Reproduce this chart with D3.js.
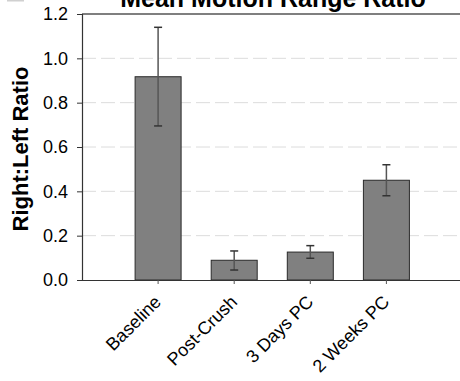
<!DOCTYPE html>
<html>
<head>
<meta charset="utf-8">
<script src="https://cdn.jsdelivr.net/npm/d3@7"></script>
<style>
  html, body { margin: 0; padding: 0; background: #fff; }
  svg { display: block; }
  text { font-family: "Liberation Sans", Arial, sans-serif; fill: #000; }
</style>
</head>
<body>
<svg id="chart" width="460" height="381"></svg>
<script>
// Group labels and mean ratio per group
const categories = ["Baseline", "Post-Crush", "3 Days PC", "2 Weeks PC"];
const meanRatio = [0.917, 0.089, 0.126, 0.450];
const errLow = [0.695, 0.045, 0.098, 0.380];
const errHigh = [1.140, 0.131, 0.155, 0.520];
const yTicks = [0.0, 0.2, 0.4, 0.6, 0.8, 1.0, 1.2];
const gridTicks = [0.2, 0.4, 0.6, 0.8, 1.0];

const svg = d3.select("#chart");

const plotLeft = 82, plotTop = 14, plotBottom = 280, plotRight = 470;
const step = 76.1;

const y = d3.scaleLinear().domain([0, 1.2]).range([plotBottom, plotTop]);
const x = d3.scaleBand()
  .domain(categories)
  .range([plotLeft + step / 2, plotLeft + step / 2 + step * categories.length])
  .padding(0);

const barW = 46;
const cx = d => x(d) + x.bandwidth() / 2;

// dashed horizontal gridlines
svg.append("g").selectAll("line").data(gridTicks).join("line")
  .attr("x1", plotLeft).attr("x2", plotRight)
  .attr("y1", d => y(d)).attr("y2", d => y(d))
  .attr("stroke", "#dcdcdc").attr("stroke-width", 1)
  .attr("stroke-dasharray", "14,5");

// top frame line
svg.append("line")
  .attr("x1", plotLeft).attr("x2", plotRight)
  .attr("y1", y(1.2)).attr("y2", y(1.2))
  .attr("stroke", "#555").attr("stroke-width", 1.5);

// bars
svg.append("g").selectAll("rect").data(categories).join("rect")
  .attr("x", d => cx(d) - barW / 2)
  .attr("width", barW)
  .attr("y", (d, i) => y(meanRatio[i]))
  .attr("height", (d, i) => y(0) - y(meanRatio[i]))
  .attr("fill", "#808080")
  .attr("stroke", "#2a2a2a").attr("stroke-width", 1);

// error bars
const eb = svg.append("g");
categories.forEach((c, i) => {
  eb.append("line")
    .attr("x1", cx(c)).attr("x2", cx(c))
    .attr("y1", y(errHigh[i])).attr("y2", y(errLow[i]))
    .attr("stroke", "#555").attr("stroke-width", 1.5);
  [errHigh[i], errLow[i]].forEach(v => {
    eb.append("line")
      .attr("x1", cx(c) - 4).attr("x2", cx(c) + 4)
      .attr("y1", y(v)).attr("y2", y(v))
      .attr("stroke", "#333").attr("stroke-width", 1.5);
  });
});

// y axis
const yAxis = d3.axisLeft(y).tickValues(yTicks).tickFormat(d3.format(".1f"))
  .tickSize(5).tickPadding(9);
const ya = svg.append("g").attr("transform", `translate(${plotLeft},0)`).call(yAxis);
ya.select(".domain").attr("stroke", "#333").attr("stroke-width", 1.2);
ya.selectAll(".tick line").attr("stroke", "#333");
ya.selectAll(".tick text")
  .style("font-family", "'Liberation Sans', Arial, sans-serif")
  .style("font-size", "18px").attr("fill", "#111");

// x axis
const xAxis = d3.axisBottom(x).tickSize(4).tickSizeOuter(0);
const xa = svg.append("g").attr("transform", `translate(0,${plotBottom})`).call(xAxis);
xa.select(".domain").attr("d", `M${plotLeft},0.5H${plotRight}`).attr("stroke", "#333").attr("stroke-width", 1.2);
xa.selectAll(".tick line").attr("stroke", "#555");
xa.selectAll(".tick text")
  .style("font-family", "'Liberation Sans', Arial, sans-serif")
  .style("font-size", "18px").attr("fill", "#111")
  .attr("text-anchor", "end")
  .attr("dy", "0")
  .attr("x", 0).attr("y", 0)
  .attr("dominant-baseline", "hanging")
  .attr("transform", "translate(-5,14) rotate(-45)");

// y axis title
svg.append("text")
  .attr("transform", "translate(28,149) rotate(-90)")
  .attr("text-anchor", "middle")
  .style("font-size", "22px").style("font-weight", "bold")
  .text("Right:Left Ratio");

// chart title
svg.append("text")
  .attr("x", 273).attr("y", 7)
  .attr("text-anchor", "middle")
  .style("font-size", "25px").style("font-weight", "bold")
  .text("Mean Motion Range Ratio");

// remnant mark in the upper-left corner
svg.append("rect").attr("x", 7).attr("y", 0).attr("width", 17).attr("height", 1.5).attr("fill", "#d0d0d0");
</script>
</body>
</html>
